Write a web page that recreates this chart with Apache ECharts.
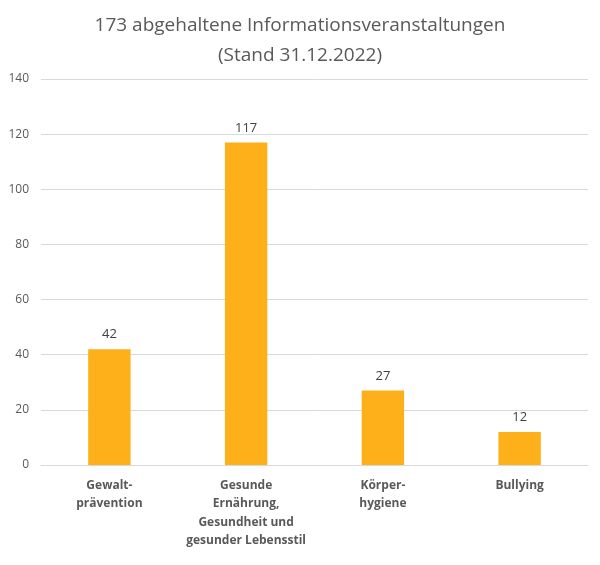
<!DOCTYPE html>
<html>
<head>
<meta charset="utf-8">
<script src="https://cdn.jsdelivr.net/npm/echarts@6/dist/echarts.min.js"></script>
<style>
  html, body { margin: 0; padding: 0; background: #fff; }
  #main { width: 600px; height: 565px; }
</style>
</head>
<body>
<div id="main"></div>
<script>
// Daten
var categories = [
  'Gewalt-\nprävention',
  'Gesunde\nErnährung,\nGesundheit und\ngesunder Lebensstil',
  'Körper-\nhygiene',
  'Bullying'
]
var values = [42, 117, 27, 12]
var titleText = '173 abgehaltene Informationsveranstaltungen\n(Stand 31.12.2022)'

var font = '"Open Sans", sans-serif'
var myChart = echarts.init(document.getElementById('main'))
var option

option = {
  backgroundColor: '#fff',
  animation: false,
  title: {
    text: titleText,
    left: 'center',
    top: 6,
    textStyle: {
      color: '#595959',
      fontWeight: 'normal',
      fontSize: 19,
      lineHeight: 30,
      fontFamily: font
    }
  },
  grid: {
    left: 41,
    right: 12,
    top: 79,
    bottom: 100
  },
  xAxis: {
    type: 'category',
    data: categories,
    axisLine: { lineStyle: { color: '#d9d9d9' } },
    axisTick: { show: false },
    axisLabel: {
      interval: 0,
      color: '#595959',
      fontWeight: 'bold',
      fontSize: 12,
      lineHeight: 18.5,
      margin: 11,
      fontFamily: font
    }
  },
  yAxis: {
    type: 'value',
    min: 0,
    max: 140,
    interval: 20,
    axisLine: { show: false },
    axisTick: { show: false },
    splitLine: { lineStyle: { color: '#d9d9d9' } },
    axisLabel: {
      color: '#595959',
      fontSize: 12,
      margin: 12,
      fontFamily: font
    }
  },
  series: [{
    type: 'bar',
    data: values,
    barWidth: '31%',
    itemStyle: { color: '#FDB01A' },
    label: {
      show: true,
      position: 'top',
      distance: 8,
      color: '#404040',
      fontSize: 13,
      fontFamily: font
    }
  }]
}

option && myChart.setOption(option)
</script>
</body>
</html>
